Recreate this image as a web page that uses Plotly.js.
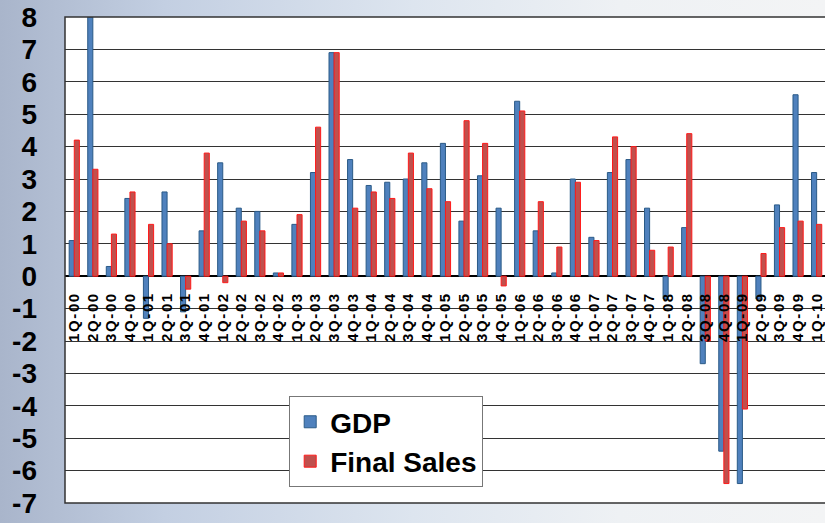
<!DOCTYPE html>
<html>
<head>
<meta charset="utf-8">
<script src="https://cdn.plot.ly/plotly-3.0.1.min.js"></script>
<style>
  html, body { margin: 0; padding: 0; }
  body {
    width: 825px; height: 523px; overflow: hidden;
    background: linear-gradient(to right, #a9b5cb 0%, #c3cfe2 20%, #dde5ef 50%, #eef1f4 75%, #f3f4f5 100%);
  }
  #chart { width: 825px; height: 523px; }
  .xtick text { letter-spacing: 1.6px; }
</style>
</head>
<body>
<div id="chart"></div>
<script>
const quarters = ["1Q-00","2Q-00","3Q-00","4Q-00","1Q-01","2Q-01","3Q-01","4Q-01",
  "1Q-02","2Q-02","3Q-02","4Q-02","1Q-03","2Q-03","3Q-03","4Q-03",
  "1Q-04","2Q-04","3Q-04","4Q-04","1Q-05","2Q-05","3Q-05","4Q-05",
  "1Q-06","2Q-06","3Q-06","4Q-06","1Q-07","2Q-07","3Q-07","4Q-07",
  "1Q-08","2Q-08","3Q-08","4Q-08","1Q-09","2Q-09","3Q-09","4Q-09","1Q-10"];
const gdp = [1.1, 8.0, 0.3, 2.4, -1.3, 2.6, -1.1, 1.4,
  3.5, 2.1, 2.0, 0.1, 1.6, 3.2, 6.9, 3.6,
  2.8, 2.9, 3.0, 3.5, 4.1, 1.7, 3.1, 2.1,
  5.4, 1.4, 0.1, 3.0, 1.2, 3.2, 3.6, 2.1,
  -0.7, 1.5, -2.7, -5.4, -6.4, -0.7, 2.2, 5.6, 3.2];
const finalSales = [4.2, 3.3, 1.3, 2.6, 1.6, 1.0, -0.4, 3.8,
  -0.2, 1.7, 1.4, 0.1, 1.9, 4.6, 6.9, 2.1,
  2.6, 2.4, 3.8, 2.7, 2.3, 4.8, 4.1, -0.3,
  5.1, 2.3, 0.9, 2.9, 1.1, 4.3, 4.0, 0.8,
  0.9, 4.4, -2.0, -6.4, -4.1, 0.7, 1.5, 1.7, 1.6];
const yTicks = [8,7,6,5,4,3,2,1,0,-1,-2,-3,-4,-5,-6,-7];

const FONT = "Liberation Sans, Arial, sans-serif";
const traces = [
  { type: "bar", name: "GDP", x: quarters, y: gdp,
    marker: { color: "#4f81bd", line: { color: "#2a5a87", width: 1 } } },
  { type: "bar", name: "Final Sales", x: quarters, y: finalSales,
    marker: { color: "#c0504d", line: { color: "#ff1a1a", width: 1 } } }
];
const layout = {
  width: 825, height: 523,
  margin: { l: 65, r: 0, t: 17, b: 20 },
  paper_bgcolor: "rgba(0,0,0,0)",
  plot_bgcolor: "#ffffff",
  barmode: "group", bargap: 0.45, bargroupgap: 0,
  showlegend: true,
  legend: {
    x: 0.295, y: 0.22, xanchor: "left", yanchor: "top",
    bgcolor: "#ffffff", bordercolor: "#777777", borderwidth: 1,
    font: { family: FONT, size: 28, color: "#000", weight: 700 },
    traceorder: "normal", tracegroupgap: 0
  },
  xaxis: {
    type: "category", range: [-0.5, 40.45],
    anchor: "free", position: 7/15,
    tickmode: "array", tickvals: quarters, ticktext: quarters,
    showline: false, showgrid: false, ticks: "",
    tickangle: -90, ticklabelstandoff: 12,
    tickfont: { family: FONT, size: 15, color: "#000", weight: 700 },
    fixedrange: true
  },
  yaxis: {
    range: [-7, 8], tickvals: yTicks, ticktext: yTicks.map(String),
    showgrid: true, gridcolor: "#333333", gridwidth: 1,
    zeroline: true, zerolinecolor: "#000000", zerolinewidth: 1.5,
    showline: false, ticks: "", ticklabelstandoff: 27,
    tickfont: { family: FONT, size: 28, color: "#000", weight: 700 },
    fixedrange: true
  },
  shapes: [
    { type: "rect", xref: "paper", yref: "paper", x0: 0, x1: 1.01, y0: 0, y1: 1,
      line: { color: "#333333", width: 1.5 }, fillcolor: "rgba(0,0,0,0)", layer: "above" }
  ]
};
Plotly.newPlot("chart", traces, layout, { displayModeBar: false, staticPlot: true });
</script>
</body>
</html>
